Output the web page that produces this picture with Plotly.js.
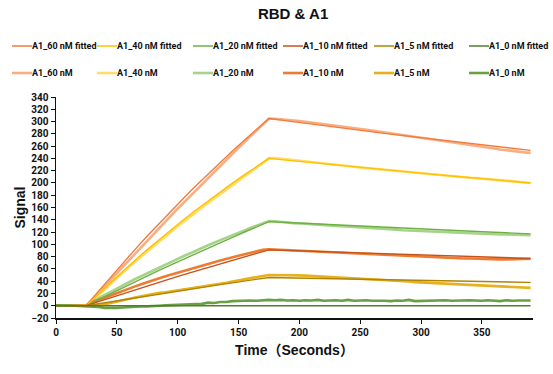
<!DOCTYPE html>
<html>
<head>
<meta charset="utf-8">
<script src="https://cdn.plot.ly/plotly-3.0.1.min.js"></script>
<style>html,body{margin:0;padding:0;background:#fff;}#chart{width:553px;height:374px;}</style>
</head>
<body>
<div id="chart"></div>
<script>
// Fitted curve time points (s)
const tFit = [0,10,20,25,35,45,55,65,75,85,95,105,115,125,135,145,155,165,175,185,195,205,215,225,235,245,255,265,275,285,295,305,315,325,335,345,355,365,375,385,390];
const fit60 = [0,0,0,0,23.8,47.0,69.7,91.8,113.5,134.7,155.4,175.6,195.4,214.7,233.6,252.0,270.1,287.7,304.9,302.4,299.7,297.1,294.6,292.0,289.5,287.0,284.5,282.0,279.6,277.2,274.8,272.4,270.0,267.7,265.4,263.1,260.8,258.5,256.3,254.1,253.0];
const fit40 = [0,0,0,0,19.3,38.1,56.4,74.2,91.4,108.3,124.6,140.5,155.9,171.0,185.6,199.8,213.6,227.0,240.1,238.0,236.0,234.0,232.0,230.1,228.1,226.2,224.3,222.4,220.5,218.6,216.8,215.0,213.2,211.4,209.6,207.8,206.1,204.3,202.6,200.9,200.0];
const fit20 = [0,0,0,0,9.9,19.7,29.4,39.0,48.4,57.8,67.0,76.1,85.1,94.0,102.8,111.5,120.1,128.6,137.0,136.0,135.0,134.0,133.0,132.1,131.1,130.1,129.2,128.2,127.3,126.4,125.4,124.5,123.6,122.7,121.8,120.9,120.0,119.2,118.3,117.4,117.0];
const fit10 = [0,0,0,0,6.6,13.1,19.5,25.9,32.2,38.4,44.5,50.6,56.6,62.5,68.3,74.1,79.8,85.4,91.0,90.3,89.6,88.9,88.2,87.5,86.8,86.1,85.5,84.8,84.1,83.5,82.8,82.2,81.5,80.9,80.3,79.6,79.0,78.4,77.8,77.2,77.0];
const fit5 = [0,0,0,0,3.3,6.5,9.8,12.9,16.1,19.2,22.3,25.4,28.4,31.4,34.4,37.3,40.3,43.1,46.0,45.6,45.2,44.8,44.4,44.0,43.6,43.2,42.8,42.5,42.1,41.7,41.3,41.0,40.6,40.3,39.9,39.5,39.2,38.9,38.5,38.2,38.0];
const fit0 = [0,0,0,0,0,0,0,0,0,0,0,0,0,0,0,0,0,0,0,0,0,0,0,0,0,0,0,0,0,0,0,0,0,0,0,0,0,0,0,0,0];

// Measured time points (s)
const tRaw = [0,5,10,15,20,25,30,35,40,45,50,55,60,65,70,75,80,85,90,95,100,105,110,115,120,125,130,135,140,145,150,155,160,165,170,175,180,185,190,195,200,205,210,215,220,225,230,235,240,245,250,255,260,265,270,275,280,285,290,295,300,305,310,315,320,325,330,335,340,345,350,355,360,365,370,375,380,385,390];
const raw60 = [0.5,0.3,0.0,-0.4,0.2,0.5,11,22,33,43.5,54,65,75.5,86,96.5,107,117,127.5,138,148,158,168,178,188.5,198,208,218,228,237.5,247,257,266.5,276,286,295.5,305,304.6,303.9,303.0,302.0,300.9,299.7,298.5,297.2,295.9,294.6,293.3,292.0,290.7,289.3,288.0,286.6,285.3,283.9,282.5,281.1,279.7,278.3,276.9,275.4,274.0,272.5,271.1,269.6,268.1,266.6,265.1,263.6,262.1,260.6,259.1,257.6,256.1,254.6,253.1,251.6,250.6,249.8,249.0];
const raw40 = [0.2,0.4,0.1,-0.2,0.3,0.4,8,17.5,27,36.5,45.5,54.5,63.5,72,80.5,89,97.5,105.5,113.5,121.5,129.5,137.5,145,152.5,160,167.5,175,182,189,196.5,203.5,211,218,225,232.5,240,240.5,239.5,238,237,236,235,233.5,232.5,231.5,230.5,229.5,228.5,227.5,226.5,225,224.5,223.5,222.5,221.5,220.5,219.5,218.5,217.5,216.5,216,215,214,213,212.5,211.5,210.5,209.5,208.5,208,207,206,205,204,203,202.5,201.5,200.5,200];
const raw20 = [0.3,0.5,0.2,-0.2,0.1,0.5,6.5,12.5,17.5,22.5,28,33,38.5,43.5,48,53,58,62.5,67,71.5,76.5,81,85,89,94,98.5,103,107,111,115,118.5,122.5,127,131,134.5,138,137.5,136,135.5,134.5,134.5,133.5,133,132,131.5,131,130,129.5,129,128,127.5,127,126,125.5,125,124.5,124,123,122.5,122,121.5,121,120.5,120,119.5,119.5,119,118.5,118,117.5,117,117,116.5,116,116,115.5,115.5,115,115];
const raw10 = [0.4,0.2,0.5,0.1,-0.1,0.5,6,10,13,16.5,20.5,24,28,31.5,35,38.5,42,45,48,51,54,57,60,62.5,65.5,68,71,73.5,76.5,79,81.5,84,86.5,89,91,92,91.5,91,90.5,90,89.5,89,88.5,88,87.5,87,86.5,86,85.5,85,84.5,84,83.5,83,82.5,82,81.5,81,80.5,80,79.5,79.5,79,78.5,78,78,77.5,77,77,76.5,76,76,75.5,75.5,75.5,75.5,76,76,76.5];
const raw5 = [0.2,0,0.3,-0.2,0.1,0,0.5,1,2.5,4.5,7,9.5,11.5,13.5,15.5,17.5,19,21,22,23.5,24.5,26,27.5,29,30.5,32.5,34,35.5,37.5,39.5,41.5,43,45,47,48.5,50,50,50.5,50.5,50,49.5,49,48.5,48,47,46.5,46,45.5,45,44.5,44,43.5,43,42.5,42,41.5,40.5,40,39.5,38.5,38,37.5,36.5,36,35.5,35,34.5,33.5,33,32.5,32,31.5,31,31,30.5,30,29.5,29.5,29];
const raw0 = [0.5,0.8,0.3,0,-0.5,-0.5,-1,-2,-3.5,-4,-3.5,-3,-2,-1.5,-1,-1,0,0,0.5,1,1,2,2,3,3,5,4.5,6,6,7.5,8,8,8.5,8,9,9.5,9,9.5,8.5,9,8,9,8.5,9.5,8,8.5,9,8,9.5,8,8.5,9,8,8.5,8,7.5,8.5,8,9.5,7.5,8,8.5,8,8.5,9,8,8.5,8,9,8.5,8,9,8.5,7.5,9,8,8.5,8,8.5];

const fitNames = ['A1_60 nM fitted','A1_40 nM fitted','A1_20 nM fitted','A1_10 nM fitted','A1_5 nM fitted','A1_0 nM fitted'];
const rawNames = ['A1_60 nM','A1_40 nM','A1_20 nM','A1_10 nM','A1_5 nM','A1_0 nM'];
const fitColors = ['#F47A3A','#FFC000','#6DB043','#C4521A','#B08404','#4E7E2E'];
const rawColors = ['#F8AE83','#FFDD66','#A6D388','#EE7B30','#E6B01F','#6AA043'];
const fitData = [fit60, fit40, fit20, fit10, fit5, fit0];
const rawData = [raw60, raw40, raw20, raw10, raw5, raw0];

// legend placement (pixels in the 553x374 canvas): line start of each column, row centres
const legendColX = [12, 97, 193, 283, 374, 469];
const legendRowY = [46, 73];

const M = {l: 56, r: 20, t: 97, b: 56};
const W = 553, H = 374;
const plotW = W - M.l - M.r, plotH = H - M.t - M.b;
const px2paperX = px => (px - M.l) / plotW;
const px2paperY = py => (H - M.b - py) / plotH;

const smallFont = {family: 'Roboto, Liberation Sans, sans-serif', size: 9, color: '#111', weight: 'bold'};
const shapes = [];
const annotations = [];
function addLegendEntry(col, row, name, color, width) {
  const x0 = legendColX[col], y = legendRowY[row];
  shapes.push({type: 'line', xref: 'paper', yref: 'paper', x0: px2paperX(x0), x1: px2paperX(x0 + 20),
    y0: px2paperY(y), y1: px2paperY(y), line: {color: color, width: width}});
  annotations.push({xref: 'paper', yref: 'paper', x: px2paperX(x0 + 19), y: px2paperY(y), xanchor: 'left', yanchor: 'middle',
    text: name, showarrow: false, font: smallFont, borderpad: 0});
}
fitNames.forEach((n, i) => addLegendEntry(i, 0, n, fitColors[i], 1.5));
rawNames.forEach((n, i) => addLegendEntry(i, 1, n, rawColors[i], 2.6));

const traces = [];
rawData.forEach((ys, i) => traces.push({x: tRaw, y: ys, type: 'scatter', mode: 'lines', name: rawNames[i],
  line: {color: rawColors[i], width: 2.6}}));
fitData.forEach((ys, i) => traces.push({x: tFit, y: ys, type: 'scatter', mode: 'lines', name: fitNames[i],
  line: {color: fitColors[i], width: 1.4}}));

const layout = {
  width: W, height: H,
  margin: {l: M.l, r: M.r, t: M.t, b: M.b, autoexpand: false},
  paper_bgcolor: '#fff', plot_bgcolor: '#fff', showlegend: false,
  title: {text: 'RBD & A1', xref: 'container', x: 0.53, xanchor: 'center', yref: 'container', y: 0.962, yanchor: 'middle',
    font: {family: 'Liberation Sans, Arial, sans-serif', size: 15, color: '#111', weight: 'bold'}},
  xaxis: {
    range: [0, 392], tick0: 0, dtick: 50, showline: true, linecolor: '#111', linewidth: 1.5,
    ticks: 'outside', ticklen: 4, tickcolor: '#111', tickwidth: 1, showgrid: false, zeroline: false,
    tickfont: {family: 'Roboto, Liberation Sans, sans-serif', size: 10, color: '#111', weight: 'bold'},
    title: {text: 'Time（Seconds）', standoff: 8, font: {family: 'Liberation Sans, Arial, Noto Sans CJK SC, sans-serif', size: 14, color: '#111', weight: 'bold'}}
  },
  yaxis: {
    range: [-20, 340], tick0: -20, dtick: 20, showline: true, linecolor: '#111', linewidth: 1.5,
    ticks: 'outside', ticklen: 4, tickcolor: '#111', tickwidth: 1, showgrid: false, zeroline: false,
    tickfont: {family: 'Roboto, Liberation Sans, sans-serif', size: 10, color: '#111', weight: 'bold'},
    title: {text: 'Signal', standoff: 2, font: {family: 'Liberation Sans, Arial, sans-serif', size: 14, color: '#111', weight: 'bold'}}
  },
  shapes: shapes,
  annotations: annotations
};

Plotly.newPlot('chart', traces, layout, {displayModeBar: false, staticPlot: true});
</script>
</body>
</html>
